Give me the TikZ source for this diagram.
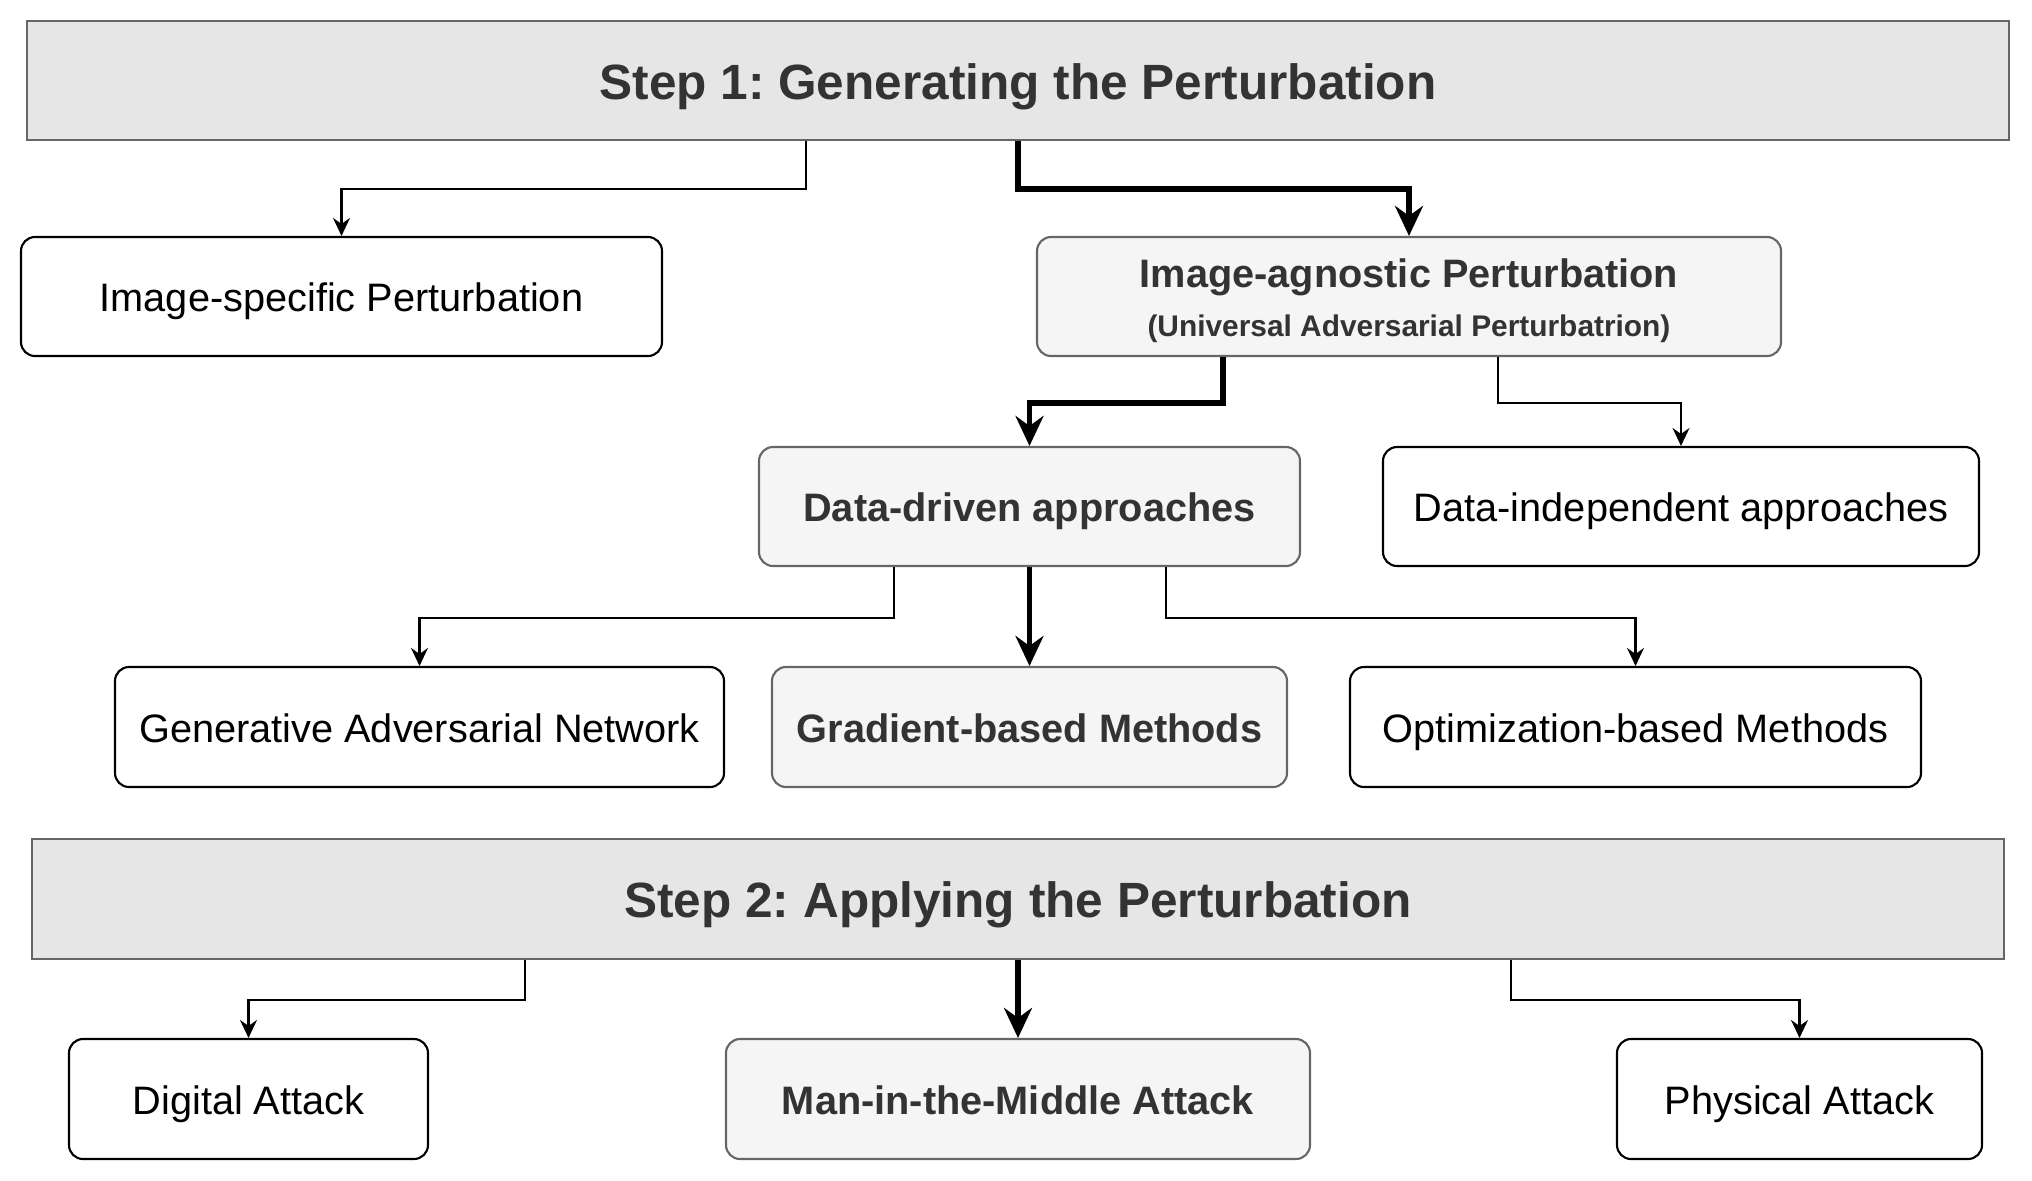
\documentclass[tikz,border=0pt]{standalone}
\usepackage{fontspec}
\setmainfont{Liberation Sans}
\usepackage{xcolor}
\usetikzlibrary{arrows.meta}
\frenchspacing

\definecolor{hdrfill}{HTML}{E6E6E6}
\definecolor{hdrline}{HTML}{666666}
\definecolor{keyfill}{HTML}{F5F5F5}
\definecolor{keytext}{HTML}{333333}

\begin{document}
\begin{tikzpicture}[x=1cm, y=-1cm,
	stepbar/.style={draw=hdrline, fill=hdrfill, line width=0.6pt, text=keytext, font=\fontsize{14.1}{17}\selectfont\bfseries, minimum height=1.19cm, inner sep=0pt, text height=12pt, text depth=1.2pt},
	plainbox/.style={draw=black, fill=white, rounded corners=1.4mm, line width=0.6pt, font=\fontsize{11.3}{13.6}\selectfont, minimum height=1.19cm, inner sep=0pt, text height=10pt, text depth=1.2pt},
	keybox/.style={plainbox, draw=hdrline, fill=keyfill, text=keytext, font=\fontsize{11.3}{13.6}\selectfont\bfseries},
	thinarr/.style={line width=0.6pt, -{Stealth[length=1.8mm, width=1.7mm, inset=0.6mm]}},
	thickarr/.style={line width=1.6pt, -{Stealth[length=3mm, width=2.8mm, inset=1mm]}}]
	\useasboundingbox (0, 0) rectangle (20.32, 11.8);
	% Paths, nodes and wires:
	\node[stepbar, minimum width=19.82cm](S1) at (10.18, 0.805){Step 1: Generating the Perturbation};
	\node[plainbox, minimum width=6.41cm](ISP) at (3.415, 2.965){Image-specific Perturbation};
	\node[keybox, minimum width=7.44cm, align=center, text height={}, text depth={}](IAP) at (14.09, 2.965){\rule{0pt}{10.6pt}Image-agnostic Perturbation\\[0.3pt]{\fontsize{8.5}{13.6}\selectfont (Universal Adversarial Perturbatrion)}};
	\node[keybox, minimum width=5.41cm](DD) at (10.295, 5.065){Data-driven approaches};
	\node[plainbox, minimum width=5.96cm](DI) at (16.81, 5.065){Data-independent approaches};
	\node[plainbox, minimum width=6.09cm, minimum height=1.2cm](GAN) at (4.195, 7.27){Generative Adversarial Network};
	\node[keybox, minimum width=5.15cm, minimum height=1.2cm](GBM) at (10.295, 7.27){Gradient-based Methods};
	\node[plainbox, minimum width=5.71cm, minimum height=1.2cm](OBM) at (16.355, 7.27){Optimization-based Methods};
	\node[stepbar, minimum width=19.72cm, minimum height=1.2cm](S2) at (10.18, 8.99){Step 2: Applying the Perturbation};
	\node[plainbox, minimum width=3.59cm, minimum height=1.2cm](DA) at (2.485, 10.99){Digital Attack};
	\node[keybox, minimum width=5.84cm, minimum height=1.2cm](MITM) at (10.18, 10.99){Man-in-the-Middle Attack};
	\node[plainbox, minimum width=3.65cm, minimum height=1.2cm](PA) at (17.995, 10.99){Physical Attack};
	\draw[thinarr] ([xshift=-2.12cm]S1.south) -- ++(0, 0.48) -| (ISP.north);
	\draw[thickarr] (S1.south) -- ++(0, 0.48) -| (IAP.north);
	\draw[thickarr] ([xshift=-1.86cm]IAP.south) -- ++(0, 0.46) -| (DD.north);
	\draw[thinarr] ([xshift=0.89cm]IAP.south) -- ++(0, 0.46) -| (DI.north);
	\draw[thinarr] ([xshift=-1.355cm]DD.south) -- ++(0, 0.51) -| (GAN.north);
	\draw[thickarr] (DD.south) -- (GBM.north);
	\draw[thinarr] ([xshift=1.365cm]DD.south) -- ++(0, 0.51) -| (OBM.north);
	\draw[thinarr] ([xshift=-4.93cm]S2.south) -- ++(0, 0.4) -| (DA.north);
	\draw[thickarr] (S2.south) -- (MITM.north);
	\draw[thinarr] ([xshift=4.93cm]S2.south) -- ++(0, 0.4) -| (PA.north);
\end{tikzpicture}
\end{document}
